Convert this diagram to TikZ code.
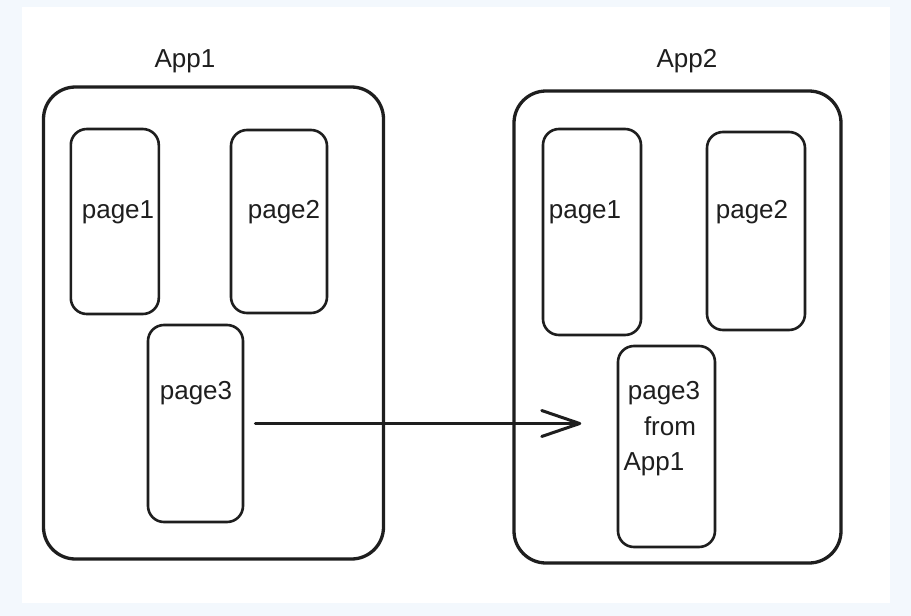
\documentclass[tikz,border=0pt]{standalone}
\usepackage{fontspec}
\setmainfont{Liberation Sans}
\definecolor{outerbg}{HTML}{F3F8FD}
\definecolor{ink}{HTML}{1E1E1E}
\begin{document}
\begin{tikzpicture}[x=1pt,y=-1pt,
  appbox/.style={draw=ink, line width=3.3pt, rounded corners=32pt, inner sep=0pt},
  pagebox/.style={draw=ink, line width=2.6pt, rounded corners=16pt, inner sep=0pt},
  lbl/.style={font=\fontsize{26}{30}\selectfont, text=ink, inner sep=0pt},
  flow/.style={draw=ink, line width=3pt, line cap=round, line join=round}]
\useasboundingbox (0,0) rectangle (911,616);
\fill[outerbg] (0,0) rectangle (911,616);
\fill[white] (22,7) rectangle (890,603);
% App containers
\node[appbox, minimum width=340pt, minimum height=472pt] (app1) at (213.5,323) {};
\node[appbox, minimum width=327pt, minimum height=472pt] (app2) at (677.5,327) {};
% App1 pages
\node[pagebox, minimum width=88pt, minimum height=185pt] (p1a) at (114.8,221.5) {};
\node[pagebox, minimum width=96pt, minimum height=183pt] (p2a) at (279,221.5) {};
\node[pagebox, minimum width=95pt, minimum height=197pt] (p3a) at (195.5,423.5) {};
% App2 pages
\node[pagebox, minimum width=98pt, minimum height=206pt] (p1b) at (592,232) {};
\node[pagebox, minimum width=98pt, minimum height=198pt] (p2b) at (756,231) {};
\node[pagebox, minimum width=97pt, minimum height=201pt] (p3b) at (666.5,446.5) {};
% labels
\node[lbl] (l1) at (185,61) {App1};
\node[lbl] (l2) at (687,61) {App2};
\node[lbl] (t1a) at (118,212) {page1};
\node[lbl] (t2a) at (284,212) {page2};
\node[lbl] (t3a) at (196,393) {page3};
\node[lbl] (t1b) at (585,212) {page1};
\node[lbl] (t2b) at (752,212) {page2};
\node[lbl] (t3b) at (664,393) {page3};
\node[lbl] (t4b) at (670,426) {from};
\node[lbl] (t5b) at (654,464) {App1};
% arrow
\coordinate (tip) at ([xshift=-37pt]p3a.east -| p3b.west);
\draw[flow] ([xshift=11pt]p3a.east) -- (tip);
\draw[flow] ([shift={(-38pt,13pt)}]tip) -- (tip) -- ([shift={(-38pt,-13pt)}]tip);
\end{tikzpicture}
\end{document}
